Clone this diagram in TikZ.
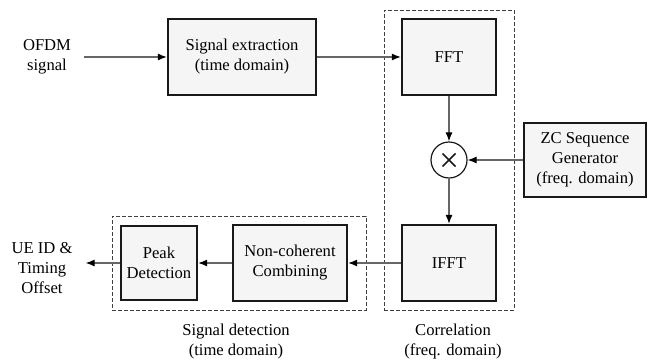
\documentclass[tikz,border=0pt]{standalone}
\usepackage{fontspec}
\setmainfont{Liberation Serif}
\usetikzlibrary{arrows.meta,positioning}

\tikzset{
  block/.style={draw=black!90, line width=2.3pt, fill=black!4, align=center,
    inner sep=0pt, minimum height=76pt},
  mixer/.style={draw=black!90, circle, line width=1.2pt, fill=white, minimum size=36pt,
    inner sep=0pt, path picture={
      \draw[line width=1.6pt] ([shift={(-6.5pt,-6.5pt)}]path picture bounding box.center)
        -- ([shift={(6.5pt,6.5pt)}]path picture bounding box.center);
      \draw[line width=1.6pt] ([shift={(-6.5pt,6.5pt)}]path picture bounding box.center)
        -- ([shift={(6.5pt,-6.5pt)}]path picture bounding box.center);}},
  group/.style={draw=black!75, dash pattern=on 4pt off 2pt, line width=0.8pt, inner sep=0pt},
  io/.style={align=center, inner xsep=13pt, inner ysep=0pt},
  caption/.style={align=center, inner sep=0pt},
  flow/.style={draw=black!60, line width=1.1pt, -{Latex[length=9pt,width=7pt,color=black]}}
}

\begin{document}
\begin{tikzpicture}[x=1pt, y=-1pt, every node/.style={font=\fontsize{16.6}{20}\selectfont}]
  \useasboundingbox (0,0) rectangle (650,359);

  \node[group, minimum width=130pt, minimum height=300pt] (corr) at (449,160) {};
  \node[group, minimum width=254pt, minimum height=94pt] (detect) at (239,263) {};
  \node[caption, below=13pt of corr, xshift=4pt] (corrlabel) {Correlation\\(freq. domain)};
  \node[caption, below=13pt of detect, xshift=-3pt] (detectlabel) {Signal detection\\(time domain)};

  \node[io] (ofdm) at (47,57) {OFDM\\signal};
  \node[block, minimum width=148pt] (sigext) at (242,57) {Signal extraction\\(time domain)};
  \node[block, minimum width=94pt] (fft) at (449,57) {FFT};
  \node[mixer] (mult) at (449,160) {};
  \node[block, minimum width=122pt, minimum height=74pt] (zc) at (585,160)
    {ZC Sequence\\Generator\\(freq. domain)};
  \node[block, minimum width=94pt] (ifft) at (449,263) {IFFT};
  \node[block, minimum width=114pt] (noncoh) at (290,263) {Non-coherent\\Combining};
  \node[block, minimum width=76pt, minimum height=74pt] (peak) at (159,263) {Peak\\Detection};
  \node[io] (ueid) at (42,268) {UE ID \&\\Timing\\Offset};

  \draw[flow] (ofdm) -- (sigext);
  \draw[flow] (sigext) -- (fft);
  \draw[flow] (fft) -- (mult);
  \draw[flow] (zc) -- (mult);
  \draw[flow] (mult) -- (ifft);
  \draw[flow] (ifft) -- (noncoh);
  \draw[flow] (noncoh) -- (peak);
  \draw[flow] (peak) -- (ueid.east |- peak.west);
\end{tikzpicture}
\end{document}
